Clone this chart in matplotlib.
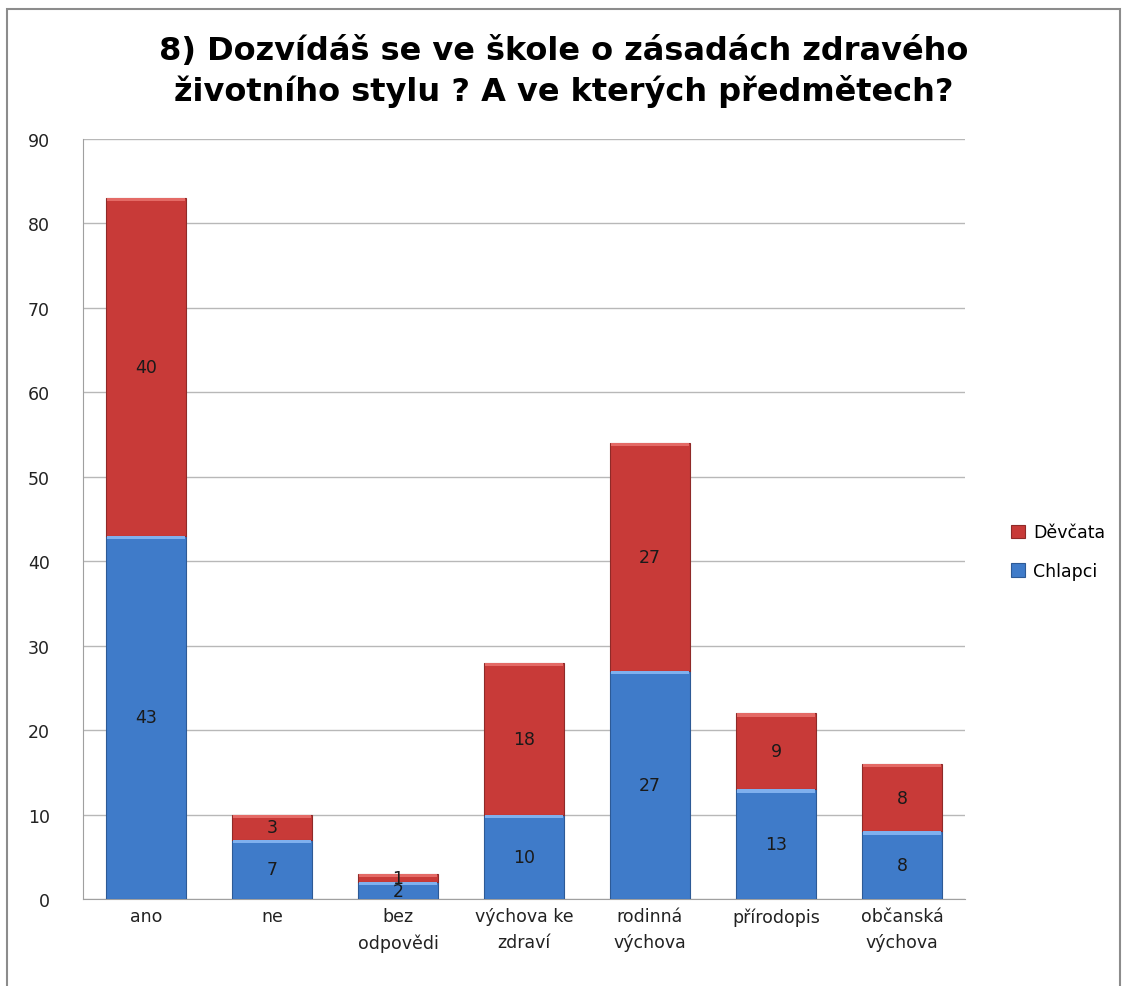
import matplotlib.pyplot as plt
from matplotlib.patches import Rectangle
import numpy as np

categories = ["ano", "ne", "bez\nodpovědi", "výchova ke\nzdraví", "rodinná\nvýchova",
              "přírodopis", "občanská\nvýchova"]
chlapci = [43, 7, 2, 10, 27, 13, 8]
devcata = [40, 3, 1, 18, 27, 9, 8]
title = "8) Dozvídáš se ve škole o zásadách zdravého\nživotního stylu ? A ve kterých předmětech?"

plt.rcParams['font.family'] = ['DejaVu Sans']

fig = plt.figure(figsize=(11.28, 9.87), dpi=100)
fig.patches.append(Rectangle((7 / 1128, -0.05), 1113 / 1128, 1.05 - 10 / 987, transform=fig.transFigure,
                             fill=False, edgecolor='#8c8c8c', linewidth=1.5))
ax = fig.add_axes([83 / 1128, 87 / 987, 882 / 1128, 760 / 987])

x = np.arange(len(categories))
w = 0.63
ax.bar(x, chlapci, w, color='#3f7bc9', edgecolor='#2d5a96', linewidth=0.8,
       label='Chlapci', zorder=3)
ax.bar(x, devcata, w, bottom=chlapci, color='#c83a38', edgecolor='#8f2a28',
       linewidth=0.8, label='Děvčata', zorder=3)

# light top band on each segment
for xi, c, d in zip(x, chlapci, devcata):
    ax.bar(xi, 0.4, w * 0.98, bottom=c - 0.4, color='#7fb0ee', linewidth=0, zorder=4)
    ax.bar(xi, 0.4, w * 0.98, bottom=c + d - 0.4, color='#e46a66', linewidth=0, zorder=4)

for xi, c, d in zip(x, chlapci, devcata):
    ax.text(xi, c / 2, str(c), ha='center', va='center', fontsize=12.5, color='#1a1a1a', zorder=5)
    ax.text(xi, c + d / 2, str(d), ha='center', va='center', fontsize=12.5, color='#1a1a1a', zorder=5)

ax.set_xlim(-0.5, len(categories) - 0.5)
ax.set_ylim(0, 90)
ax.set_yticks(range(0, 91, 10))
ax.set_xticks(x)
ax.set_xticklabels(categories, fontsize=12.5, color='#222222', linespacing=1.55)
ax.tick_params(axis='y', labelsize=12.5, labelcolor='#222222', length=0, pad=24)
ax.tick_params(axis='x', length=0, pad=6)
ax.grid(axis='y', color='#b8b8b8', linewidth=1, zorder=0)
for s in ['top', 'right']:
    ax.spines[s].set_visible(False)
ax.spines['left'].set_color('#a0a0a0')
ax.spines['bottom'].set_color('#a0a0a0')

handles, labels = ax.get_legend_handles_labels()
fig.legend(handles[::-1], labels[::-1], loc='center left', bbox_to_anchor=(995 / 1128, 0.44),
           frameon=False, fontsize=12.5, handlelength=0.8, handleheight=0.8, labelspacing=1.2,
           handletextpad=0.5)

fig.text(0.5, 1 - 72 / 987, title, ha='center', va='center', fontsize=23, fontweight='bold',
         linespacing=1.3)

fig.savefig('out.png', dpi=100)
